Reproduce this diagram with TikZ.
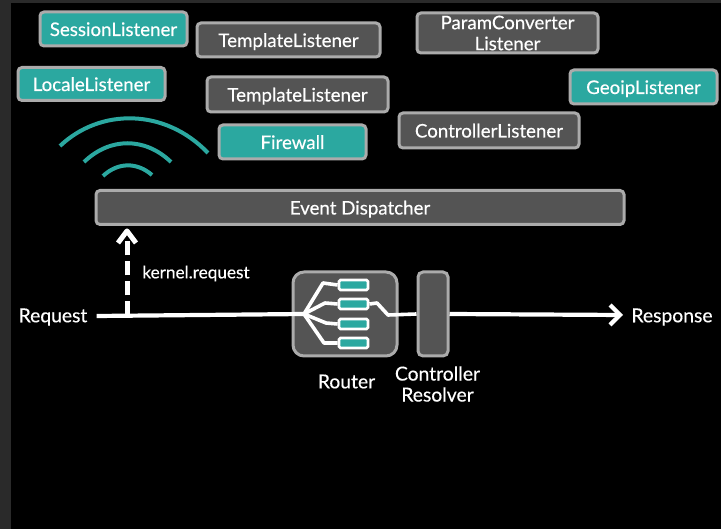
\documentclass[tikz,border=0pt]{standalone}
\usepackage{fontspec}
\setmainfont{Lato}[RawFeature={embolden=0.35}]
\usetikzlibrary{arrows.meta}
\definecolor{teal1}{HTML}{2BA8A0}
\definecolor{gray1}{HTML}{545454}
\definecolor{edge1}{HTML}{ABABAB}
\definecolor{strip1}{HTML}{2A2A2A}
\tikzset{
 x=1pt,y=-1pt,
 base/.style={draw=edge1,line width=3pt,rounded corners=4pt,text=white,font=\fontsize{18.7}{22}\selectfont,align=center,inner sep=0pt,text height=14pt,text depth=0pt},
 tealbox/.style={base,fill=teal1},
 graybox/.style={base,fill=gray1},
 lab/.style={text=white,font=\fontsize{19.3}{22}\selectfont,align=center,inner sep=0pt},
 wire/.style={draw=white,line width=4.2pt,line join=round},
 mini/.style={draw=white,fill=teal1,line width=2.8pt,rounded corners=1.5pt,minimum width=29pt,minimum height=10pt,inner sep=0pt},
 wave/.style={draw=teal1,line width=4pt},
}
\newcommand{\bx}[7]{\node[#1,minimum width=#4pt,minimum height=#5pt] (#6) at (#2,#3) {#7};}
\begin{document}
\begin{tikzpicture}
\useasboundingbox (0,0) rectangle (721,529);
\fill[black] (0,0) rectangle (721,529);
\fill[strip1] (0,0) rectangle (11,529);
\fill[strip1] (0,0) rectangle (721,3);
\bx{tealbox}{113.5}{29}{147}{34}{session}{SessionListener}
\bx{graybox}{288.5}{40}{183}{34}{tpla}{TemplateListener}
\node[graybox,minimum width=181pt,minimum height=40pt,text height=,text depth=,font=\fontsize{18.7}{21}\selectfont] (param) at (507.5,33) {ParamConverter\\Listener};
\bx{tealbox}{91.5}{84}{147}{33}{locale}{LocaleListener}
\bx{graybox}{297.5}{94.5}{181}{35}{tplb}{TemplateListener}
\bx{tealbox}{643.5}{87}{147}{34}{geoip}{GeoipListener}
\bx{tealbox}{292.5}{142}{147}{34}{firewall}{Firewall}
\bx{graybox}{489}{130.5}{180}{35}{ctrl}{ControllerListener}
\bx{graybox}{360}{207.5}{528}{34}{dispatch}{Event Dispatcher}
\node[base,fill=gray1,rounded corners=11pt,minimum width=104pt,minimum height=84pt] (router) at (345,314) {};
\node[base,fill=gray1,rounded corners=5pt,minimum width=30pt,minimum height=84pt] (resolver) at (433,314) {};
% waves
\draw[wave] (60,146) .. controls (100,108) and (165,108) .. (208,153);
\draw[wave] (84,162) .. controls (110,137) and (145,137) .. (171,162);
\draw[wave] (103,176) .. controls (118,162) and (137,162) .. (152,175);
% labels
\node[lab] (req) at (53,317) {Request};
\node[lab] (resp) at (672,317) {Response};
\node[lab,font=\fontsize{17.2}{20}\selectfont] (klab) at (196,273.5) {kernel.request};
\node[lab] (rlab) at (346.5,381.5) {Router};
\node[lab,font=\fontsize{19.3}{21}\selectfont] (clab) at (437.5,384) {Controller\\Resolver};
% mini boxes
\node[mini] (m1) at (353.5,285) {};
\node[mini] (m2) at (353.5,304) {};
\node[mini] (m3) at (353.5,324) {};
\node[mini] (m4) at (353.5,343) {};
\coordinate (hub) at (304,314);
\coordinate (tap) at (127,315.5);
\coordinate (bend) at (388,315);
% wires
\draw[wire] (req.east)++(9,-1) coordinate (rs) (rs) -- (hub);
\draw[wire,line width=3.6pt] (hub) -- (323,283) -- (m1.west);
\draw[wire,line width=3.6pt] (hub) -- (325,303) -- (m2.west);
\draw[wire,line width=3.6pt] (hub) -- (326,323) -- (m3.west);
\draw[wire,line width=3.6pt] (hub) -- (324,343) -- (m4.west);
\draw[wire,line width=3.6pt] (m2.east) -- (377,303) -- (bend) -- (resolver.west);
\draw[wire,-{Straight Barb[length=10pt,width=20pt,line width=4.2pt]}] (resolver.east) -- (623,315) coordinate (re);
\draw[wire,dash pattern=on 14pt off 6pt,line width=5pt] (tap) -- (127,240);
\draw[wire,line width=5pt] (118,243) -- (127,231) -- (136,243);
\end{tikzpicture}
\end{document}
